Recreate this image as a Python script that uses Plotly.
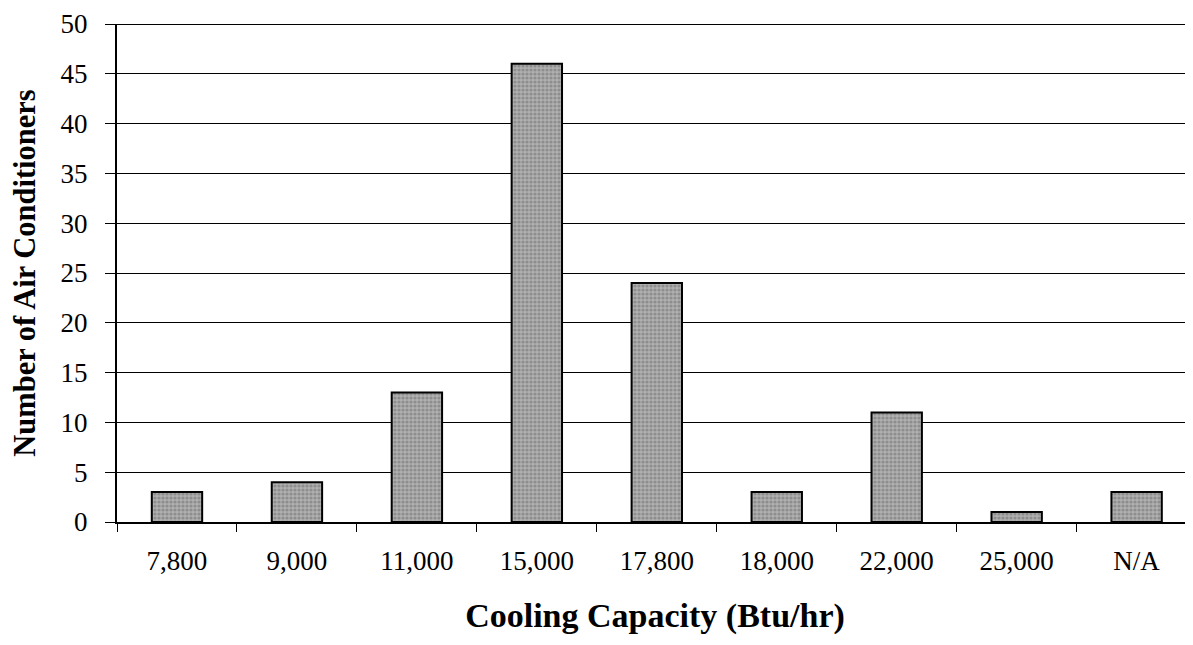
import plotly.graph_objects as go

# Air conditioner counts by cooling capacity
capacities = ["7,800", "9,000", "11,000", "15,000", "17,800", "18,000", "22,000", "25,000", "N/A"]
counts = [3, 4, 13, 46, 24, 3, 11, 1, 3]
y_ticks = list(range(0, 51, 5))

SERIF = "Liberation Serif, Times New Roman, serif"

fig = go.Figure()
fig.add_trace(go.Bar(
    x=capacities,
    y=counts,
    width=0.42,
    marker=dict(
        color="#a0a0a0",
        line=dict(color="black", width=2),
        pattern=dict(shape=".", fgcolor="#6a6a6a", bgcolor="#b0b0b0", size=4, solidity=0.5),
    ),
    showlegend=False,
))

# page body has an 8px margin, so size/margins are trimmed to keep the plot area in place
fig.update_layout(
    width=1185, height=637,
    margin=dict(l=109, r=0, t=16, b=123),
    paper_bgcolor="white",
    plot_bgcolor="white",
    font=dict(family=SERIF, color="black", size=27),
)

# heavier top border like the original
fig.add_hline(y=50, line_color="black", line_width=2)

fig.update_xaxes(
    range=[-0.5, 8.47],
    automargin=False,
    showline=True, linecolor="black", linewidth=2,
    ticks="outside", tickson="boundaries", ticklen=8, tickcolor="black", tickwidth=1,
    ticklabelstandoff=14,
    tickfont=dict(family=SERIF, size=27),
    showgrid=False,
    title=dict(text="<b>Cooling Capacity (Btu/hr)</b>", font=dict(family=SERIF, size=34), standoff=28),
)

fig.update_yaxes(
    range=[0, 50],
    automargin=False,
    tickvals=y_ticks,
    showline=True, linecolor="black", linewidth=2,
    ticks="outside", ticklen=10, tickcolor="black", tickwidth=1,
    ticklabelstandoff=12,
    showgrid=True, gridcolor="black", gridwidth=1,
    zeroline=False,
    tickfont=dict(family=SERIF, size=27),
    title=dict(text="<b>Number of Air Conditioners</b>", font=dict(family=SERIF, size=30.5), standoff=20),
)

fig.write_html("out.html")
